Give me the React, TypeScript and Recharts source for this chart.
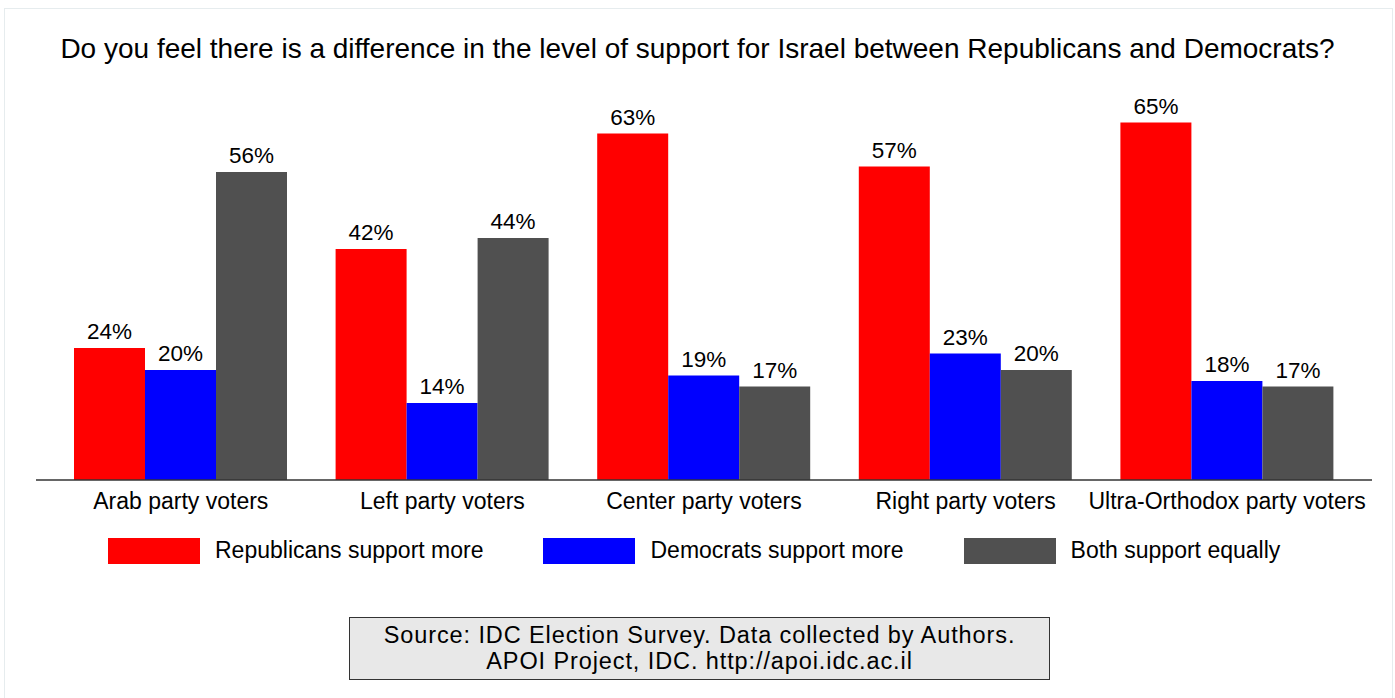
import { BarChart, Bar, XAxis, YAxis, LabelList } from "recharts";

const categories = [
  "Arab party voters",
  "Left party voters",
  "Center party voters",
  "Right party voters",
  "Ultra-Orthodox party voters",
];
const republicansMore = [24, 42, 63, 57, 65];
const democratsMore = [20, 14, 19, 23, 18];
const bothEqual = [56, 44, 17, 20, 17];

const series = [
  { key: "rep", name: "Republicans support more", color: "#ff0000", values: republicansMore },
  { key: "dem", name: "Democrats support more", color: "#0000ff", values: democratsMore },
  { key: "both", name: "Both support equally", color: "#505050", values: bothEqual },
];

const title =
  "Do you feel there is a difference in the level of support for Israel between Republicans and Democrats?";
const sourceLines = [
  "Source: IDC Election Survey. Data collected by Authors.",
  "APOI Project, IDC. http://apoi.idc.ac.il",
];

const data = categories.map((c, i) => {
  const row: Record<string, string | number> = { cat: c };
  series.forEach((s) => (row[s.key] = s.values[i]));
  return row;
});

const font = "'Liberation Sans', Arial, Helvetica, sans-serif";

export default function App() {
  return (
    <div
      style={{
        position: "absolute",
        left: 0,
        top: 0,
        width: 1395,
        height: 698,
        background: "#fff",
        fontFamily: font,
        overflow: "hidden",
      }}
    >
      <div
        style={{
          position: "absolute",
          left: 4,
          top: 8,
          width: 1389,
          height: 700,
          border: "1px solid #e6ecee",
          boxSizing: "border-box",
        }}
      />
      <div
        style={{
          position: "absolute",
          left: 0,
          width: 1395,
          top: 33,
          textAlign: "center",
          fontSize: 28,
          color: "#000",
        }}
      >
        {title}
      </div>

      <div style={{ position: "absolute", left: 0, top: 0 }}>
        <BarChart
          width={1395}
          height={698}
          data={data}
          margin={{ top: 95, left: 36, right: 23, bottom: 178 }}
          barCategoryGap={24}
          barGap={0}
        >
          <XAxis
            dataKey="cat"
            height={40}
            padding={{ left: 14, right: 14 }}
            axisLine={{ stroke: "#333", strokeWidth: 1.5 }}
            tickLine={false}
            tickMargin={7}
            tick={{ fontSize: 23, fill: "#000", fontFamily: font }}
            interval={0}
          />
          <YAxis hide domain={[0, 70]} />
          {series.map((s) => (
            <Bar key={s.key} dataKey={s.key} name={s.name} fill={s.color} isAnimationActive={false}>
              <LabelList
                dataKey={s.key}
                position="top"
                offset={9}
                fill="#000"
                fontSize={22.5}
                fontFamily={font}
                formatter={(v: number) => `${v}%`}
              />
            </Bar>
          ))}
        </BarChart>
      </div>

      <div
        style={{
          position: "absolute",
          left: 108,
          top: 537,
          display: "flex",
          gap: 60,
          alignItems: "center",
        }}
      >
        {series.map((s) => (
          <div key={s.key} style={{ display: "flex", alignItems: "center" }}>
            <div style={{ width: 92, height: 26, background: s.color }} />
            <span style={{ marginLeft: 15, fontSize: 23, color: "#000" }}>{s.name}</span>
          </div>
        ))}
      </div>

      <div
        style={{
          position: "absolute",
          left: 349,
          top: 617,
          width: 701,
          height: 63,
          boxSizing: "border-box",
          border: "1.5px solid #333",
          background: "#e8e8e8",
          textAlign: "center",
          fontSize: 23.5,
          letterSpacing: 0.9,
          lineHeight: "26px",
          paddingTop: 4,
          color: "#000",
        }}
      >
        {sourceLines.map((l) => (
          <div key={l}>{l}</div>
        ))}
      </div>
    </div>
  );
}
